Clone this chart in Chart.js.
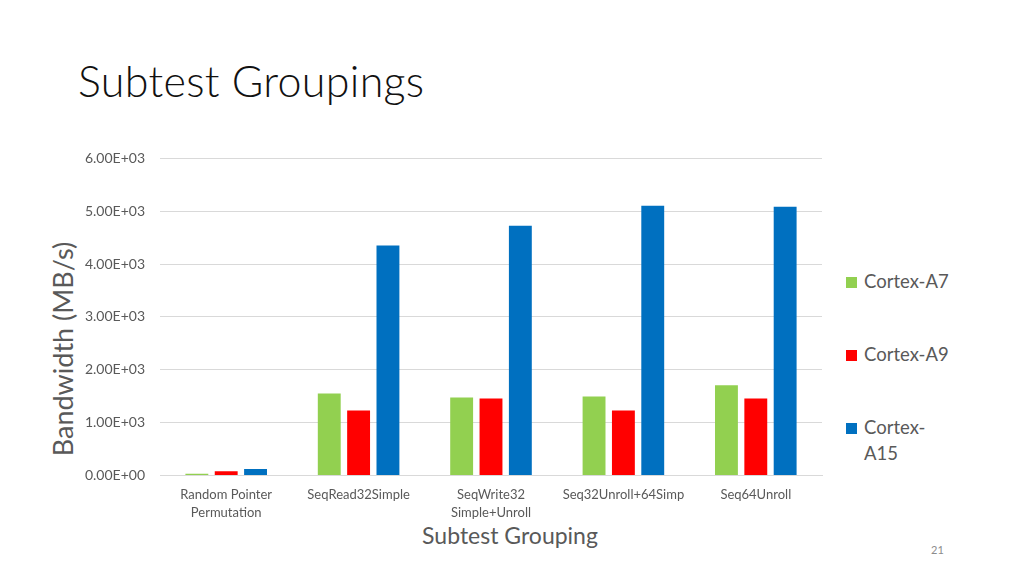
<!DOCTYPE html>
<html>
<head>
<meta charset="utf-8">
<script src="https://cdn.jsdelivr.net/npm/chart.js@4/dist/chart.umd.min.js"></script>
<style>
  html, body { margin: 0; padding: 0; background: #fff; }
  body { width: 1024px; height: 576px; position: relative; overflow: hidden; font-family: Lato, "Open Sans", sans-serif; }
  #title { position: absolute; left: 78px; top: 55px; font-size: 43px; font-weight: 300; color: #111; letter-spacing: 0.3px; }
  #wrap { position: absolute; left: 80px; top: 135px; width: 750px; height: 389px; }
  #ytitle { position: absolute; left: 62px; top: 349px; transform: translate(-50%, -50%) rotate(-90deg); font-size: 27px; color: #595959; white-space: nowrap; }
  #xtitle { position: absolute; left: 510px; top: 535px; transform: translate(-50%, -50%); font-size: 23px; color: #595959; white-space: nowrap; }
  #legend { position: absolute; left: 846px; top: 268px; font-size: 18.5px; color: #595959; }
  .item { position: absolute; left: 0; white-space: nowrap; line-height: 26px; }
  .item span.box { display: inline-block; width: 11px; height: 11px; margin-right: 7px; vertical-align: 0px; }
  .item .txt { display: inline-block; vertical-align: top; }
  #page { position: absolute; left: 931px; top: 543px; font-size: 11px; color: #8c8c8c; }
</style>
</head>
<body>
<div id="title">Subtest Groupings</div>
<div id="ytitle">Bandwidth (MB/s)</div>
<div id="xtitle">Subtest Grouping</div>
<div id="wrap"><canvas id="chart"></canvas></div>
<div id="legend"></div>
<div id="page">21</div>
<script>
var categories = [
  ['Random Pointer', 'Permutation'],
  'SeqRead32Simple',
  ['SeqWrite32', 'Simple+Unroll'],
  'Seq32Unroll+64Simp',
  'Seq64Unroll'
];
var seriesNames = ['Cortex-A7', 'Cortex-A9', 'Cortex-A15'];
var legendText = [['Cortex-A7'], ['Cortex-A9'], ['Cortex-', 'A15']];
var seriesColors = ['#92d050', '#ff0000', '#0070c0'];
var cortexA7 = [30, 1550, 1475, 1495, 1705];
var cortexA9 = [80, 1230, 1455, 1230, 1455];
var cortexA15 = [120, 4350, 4725, 5105, 5085];
var yTicks = [0, 1000, 2000, 3000, 4000, 5000, 6000];

var values = [cortexA7, cortexA9, cortexA15];

new Chart(document.getElementById('chart'), {
  type: 'bar',
  data: {
    labels: categories,
    datasets: seriesNames.map(function (name, i) {
      return {
        label: name,
        data: values[i],
        backgroundColor: seriesColors[i],
        categoryPercentage: 0.665,
        barPercentage: 0.78
      };
    })
  },
  options: {
    responsive: true,
    maintainAspectRatio: false,
    animation: false,
    layout: { padding: { left: 0, right: 8, top: 6, bottom: 0 } },
    plugins: { legend: { display: false }, tooltip: { enabled: false } },
    scales: {
      x: {
        grid: { display: false },
        border: { color: '#d9d9d9', width: 1 },
        ticks: {
          color: '#595959', font: { family: 'Lato', size: 13, lineHeight: 1.33 },
          maxRotation: 0, autoSkip: false, padding: 3
        }
      },
      y: {
        min: 0, max: 6000,
        afterBuildTicks: function (axis) {
          axis.ticks = yTicks.map(function (v) { return { value: v }; });
        },
        afterFit: function (axis) { axis.width = 80; },
        grid: { color: '#d9d9d9', drawTicks: false },
        border: { display: false },
        ticks: {
          color: '#595959', font: { family: 'Lato', size: 14 }, padding: 15,
          callback: function (v) {
            var e = v === 0 ? 0 : Math.floor(Math.log10(v));
            var m = (v / Math.pow(10, e)).toFixed(2);
            return m + 'E+' + (e < 10 ? '0' + e : e);
          }
        }
      }
    }
  }
});

var legend = document.getElementById('legend');
var legendTops = [0, 73, 146];
seriesNames.forEach(function (name, i) {
  var d = document.createElement('div');
  d.className = 'item';
  d.style.top = legendTops[i] + 'px';
  d.innerHTML = '<span class="box" style="background:' + seriesColors[i] + '"></span><span class="txt">' + legendText[i].join('<br>') + '</span>';
  legend.appendChild(d);
});
</script>
</body>
</html>
